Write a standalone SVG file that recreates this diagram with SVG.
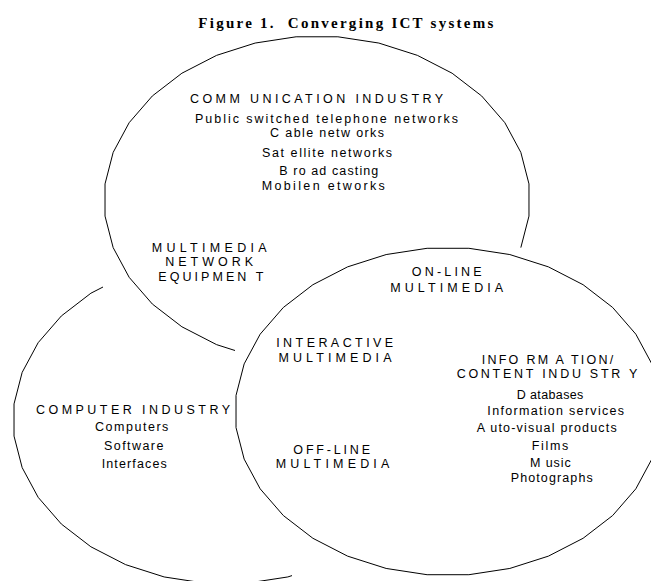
<svg xmlns="http://www.w3.org/2000/svg" width="651" height="581" viewBox="0 0 651 581">
<style>
.t{font-family:"Liberation Sans",Arial,sans-serif;font-size:12.5px;fill:#000;text-anchor:middle}
.ttl{font-family:"Liberation Serif","Times New Roman",serif;font-size:15px;font-weight:bold;fill:#000;text-anchor:middle;white-space:pre}
.e{fill:none;stroke:#000;stroke-width:1;stroke-linejoin:round}
</style>
<rect width="651" height="581" fill="#fff"/>
<text class="ttl" x="345.8" y="27.7" textLength="295" lengthAdjust="spacing">Figure 1.  Converging ICT systems</text>

<g id="communication-industry">
<polyline class="e" points="235,350.5 216.59,344.63 181.88,326.77 152.35,304.04 129.15,277.31 113.17,247.61 105.03,216.08 105.03,183.92 113.17,152.39 129.15,122.69 152.35,95.96 181.88,73.23 216.59,55.37 255.17,43.06 296.12,36.79 337.88,36.79 378.83,43.06 417.41,55.37 452.12,73.23 481.65,95.96 504.85,122.69 520.83,152.39 528.97,183.92 528.97,216.08 520.83,247.61"/>
<text class="t" x="316.5" y="102.5" textLength="253" lengthAdjust="spacing">COMM UNICATION INDUSTRY</text>
<text class="t" x="326.5" y="123.3" textLength="263" lengthAdjust="spacing">Public switched telephone networks</text>
<text class="t" x="327" y="137.3" textLength="114" lengthAdjust="spacing">C able netw orks</text>
<text class="t" x="327" y="156.7" textLength="130" lengthAdjust="spacing">Sat ellite networks</text>
<text class="t" x="328.8" y="175" textLength="99" lengthAdjust="spacing">B ro ad casting</text>
<text class="t" x="323.3" y="190" textLength="123" lengthAdjust="spacing">Mobilen etworks</text>
</g>

<g id="computer-industry">
<polyline class="e" points="292,575.6 287.83,576.94 246.88,583.21 205.12,583.21 164.17,576.94 125.59,564.63 90.88,546.77 61.35,524.04 38.15,497.31 22.17,467.61 14.03,436.08 14.03,403.92 22.17,372.39 38.15,342.69 61.35,315.96 90.88,293.23 103,287"/>
<text class="t" x="133" y="414" textLength="194" lengthAdjust="spacing">COMPUTER INDUSTRY</text>
<text class="t" x="131.7" y="431" textLength="73.3" lengthAdjust="spacing">Computers</text>
<text class="t" x="133.7" y="450" textLength="59.3" lengthAdjust="spacing">Software</text>
<text class="t" x="134.2" y="468.3" textLength="65" lengthAdjust="spacing">Interfaces</text>
</g>

<g id="information-content-industry">
<polygon class="e" points="659.97,427.58 651.83,459.11 635.85,488.81 612.65,515.54 583.12,538.27 548.41,556.13 509.83,568.44 468.88,574.71 427.12,574.71 386.17,568.44 347.59,556.13 312.88,538.27 283.35,515.54 260.15,488.81 244.17,459.11 236.03,427.58 236.03,395.42 244.17,363.89 260.15,334.19 283.35,307.46 312.88,284.73 347.59,266.87 386.17,254.56 427.12,248.29 468.88,248.29 509.83,254.56 548.41,266.87 583.12,284.73 612.65,307.46 635.85,334.19 651.83,363.89 659.97,395.42"/>
<text class="t" x="547.5" y="364" textLength="131.7" lengthAdjust="spacing">INFO RM A TION/</text>
<text class="t" x="547" y="377.7" textLength="180.7" lengthAdjust="spacing">CONTENT INDU STR Y</text>
<text class="t" x="550" y="399.3" textLength="66.7" lengthAdjust="spacing">D atabases</text>
<text class="t" x="555.7" y="415" textLength="136.7" lengthAdjust="spacing">Information services</text>
<text class="t" x="546.7" y="431.7" textLength="140" lengthAdjust="spacing">A uto-visual products</text>
<text class="t" x="550" y="450" textLength="36.7" lengthAdjust="spacing">Films</text>
<text class="t" x="550.3" y="466.7" textLength="40.7" lengthAdjust="spacing">M usic</text>
<text class="t" x="551.7" y="481.7" textLength="82" lengthAdjust="spacing">Photographs</text>
</g>

<g id="multimedia-network-equipment">
<text class="t" x="209.2" y="252.3" textLength="115" lengthAdjust="spacing">MULTIMEDIA</text>
<text class="t" x="209.2" y="266" textLength="88" lengthAdjust="spacing">NETWORK</text>
<text class="t" x="210.8" y="280.7" textLength="105" lengthAdjust="spacing">EQUIPMEN T</text>
</g>

<g id="on-line-multimedia">
<text class="t" x="446.7" y="276" textLength="70" lengthAdjust="spacing">ON-LINE</text>
<text class="t" x="446.7" y="291.7" textLength="113" lengthAdjust="spacing">MULTIMEDIA</text>
</g>

<g id="interactive-multimedia">
<text class="t" x="334.7" y="346.7" textLength="117" lengthAdjust="spacing">INTERACTIVE</text>
<text class="t" x="335" y="361.7" textLength="113" lengthAdjust="spacing">MULTIMEDIA</text>
</g>

<g id="off-line-multimedia">
<text class="t" x="331.7" y="454" textLength="76.7" lengthAdjust="spacing">OFF-LINE</text>
<text class="t" x="332.5" y="468.3" textLength="113.7" lengthAdjust="spacing">MULTIMEDIA</text>
</g>

<g id="connectors"></g>
</svg>
